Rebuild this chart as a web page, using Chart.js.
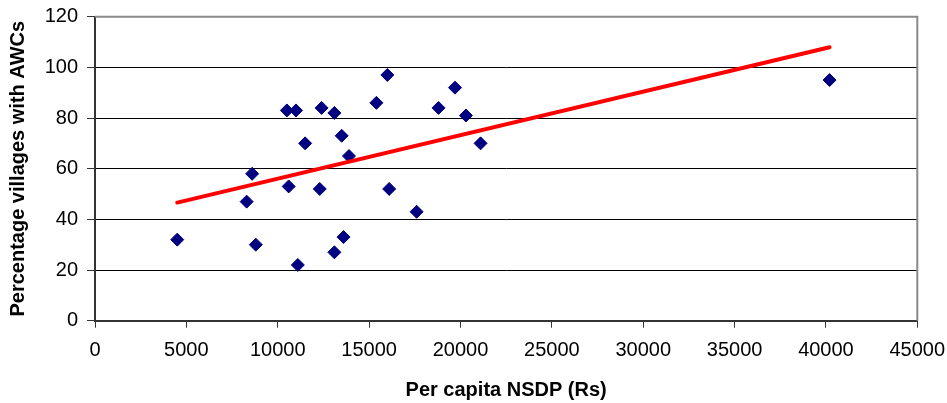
<!DOCTYPE html>
<html>
<head>
<meta charset="utf-8">
<script src="https://cdn.jsdelivr.net/npm/chart.js@4/dist/chart.umd.min.js"></script>
<style>
  html, body { margin: 0; padding: 0; background: #ffffff; }
  #wrap { width: 947px; height: 403px; }
</style>
</head>
<body>
<div id="wrap"><canvas id="chart" width="947" height="403"></canvas></div>
<script>
// Per capita NSDP (Rs) for each state
const nsdp = [4500, 8300, 8600, 8800, 10500, 11000, 10600, 11100, 11500, 12400, 12300,
              13100, 13100, 13500, 13600, 13900, 15400, 16000, 16100, 17600, 18800,
              19700, 20300, 21100, 40200];
// Percentage of villages with Anganwadi centres
const villagesWithAWC = [32, 47, 58, 30, 83, 83, 53, 22, 70, 84, 52,
                         82, 27, 73, 33, 65, 86, 97, 52, 43, 84,
                         92, 81, 70, 95];

const xTicks = [0, 5000, 10000, 15000, 20000, 25000, 30000, 35000, 40000, 45000];
const yTicks = [0, 20, 40, 60, 80, 100, 120];

const points = nsdp.map((x, i) => ({ x: x, y: villagesWithAWC[i] }));

// Ordinary least-squares linear trendline over the observed range
function linearTrend(xs, ys) {
  const n = xs.length;
  const mx = xs.reduce((a, b) => a + b, 0) / n;
  const my = ys.reduce((a, b) => a + b, 0) / n;
  let sxy = 0, sxx = 0;
  for (let i = 0; i < n; i++) {
    sxy += (xs[i] - mx) * (ys[i] - my);
    sxx += (xs[i] - mx) * (xs[i] - mx);
  }
  const slope = sxy / sxx;
  const icpt = my - slope * mx;
  const lo = Math.min(...xs), hi = Math.max(...xs);
  return [{ x: lo, y: icpt + slope * lo }, { x: hi, y: icpt + slope * hi }];
}
const trend = linearTrend(nsdp, villagesWithAWC);

const FONT = "'Liberation Sans', Arial, sans-serif";

// grey frame along the top and right of the plot area
const plotFrame = {
  id: 'plotFrame',
  afterDraw(chart) {
    const { ctx, chartArea: a } = chart;
    ctx.save();
    ctx.strokeStyle = '#8a8a8a';
    ctx.lineWidth = 2;
    ctx.beginPath();
    ctx.moveTo(a.left, a.top);
    ctx.lineTo(a.right, a.top);
    ctx.lineTo(a.right, a.bottom);
    ctx.stroke();
    ctx.restore();
  }
};

new Chart(document.getElementById('chart'), {
  type: 'scatter',
  data: {
    datasets: [
      {
        label: 'Linear trend',
        type: 'line',
        data: trend,
        borderColor: '#ff0000',
        borderWidth: 4,
        borderCapStyle: 'round',
        pointRadius: 0,
        fill: false,
        order: 0
      },
      {
        label: 'States',
        data: points,
        pointStyle: 'rectRot',
        pointRadius: 6.5,
        pointHoverRadius: 6.5,
        backgroundColor: '#000080',
        borderColor: '#000080',
        borderWidth: 1,
        order: 1
      }
    ]
  },
  options: {
    responsive: false,
    animation: false,
    events: [],
    layout: { padding: { top: 16.7, right: 29.7, left: 0, bottom: 0 } },
    plugins: {
      legend: { display: false },
      tooltip: { enabled: false }
    },
    scales: {
      x: {
        type: 'linear',
        min: 0,
        max: 45000,
        afterBuildTicks(scale) { scale.ticks = xTicks.map(v => ({ value: v })); },
        afterFit(scale) {
          scale.height = 82.3;
          scale.paddingLeft = 0;
          scale.paddingRight = 0;
        },
        ticks: {
          color: '#000000',
          font: { family: FONT, size: 20 },
          padding: 11,
          maxRotation: 0,
          autoSkip: false,
          callback: (v) => String(v)
        },
        grid: {
          drawOnChartArea: false,
          drawTicks: true,
          tickLength: 7,
          tickColor: '#333333',
          lineWidth: 1
        },
        border: { display: true, color: '#333333', width: 2 },
        title: {
          display: true,
          text: 'Per capita NSDP (Rs)',
          color: '#000000',
          font: { family: FONT, size: 20, weight: 'bold' },
          padding: { top: 0, bottom: 1 }
        }
      },
      y: {
        type: 'linear',
        min: 0,
        max: 120,
        afterBuildTicks(scale) { scale.ticks = yTicks.map(v => ({ value: v })); },
        afterFit(scale) {
          scale.width = 95;
          scale.paddingTop = 0;
          scale.paddingBottom = 0;
        },
        ticks: {
          color: '#000000',
          font: { family: FONT, size: 20 },
          padding: 9,
          callback: (v) => String(v)
        },
        grid: {
          drawTicks: true,
          tickLength: 8,
          tickColor: '#333333',
          color: (c) => (c.tick && (c.tick.value === 0 || c.tick.value === 120)) ? 'rgba(0,0,0,0)' : '#000000',
          lineWidth: 1
        },
        border: { display: true, color: '#333333', width: 2 },
        title: {
          display: true,
          text: 'Percentage villages with AWCs',
          color: '#000000',
          font: { family: FONT, size: 20, weight: 'bold' },
          padding: { top: 6, bottom: 0 }
        }
      }
    }
  },
  plugins: [plotFrame]
});
</script>
</body>
</html>
